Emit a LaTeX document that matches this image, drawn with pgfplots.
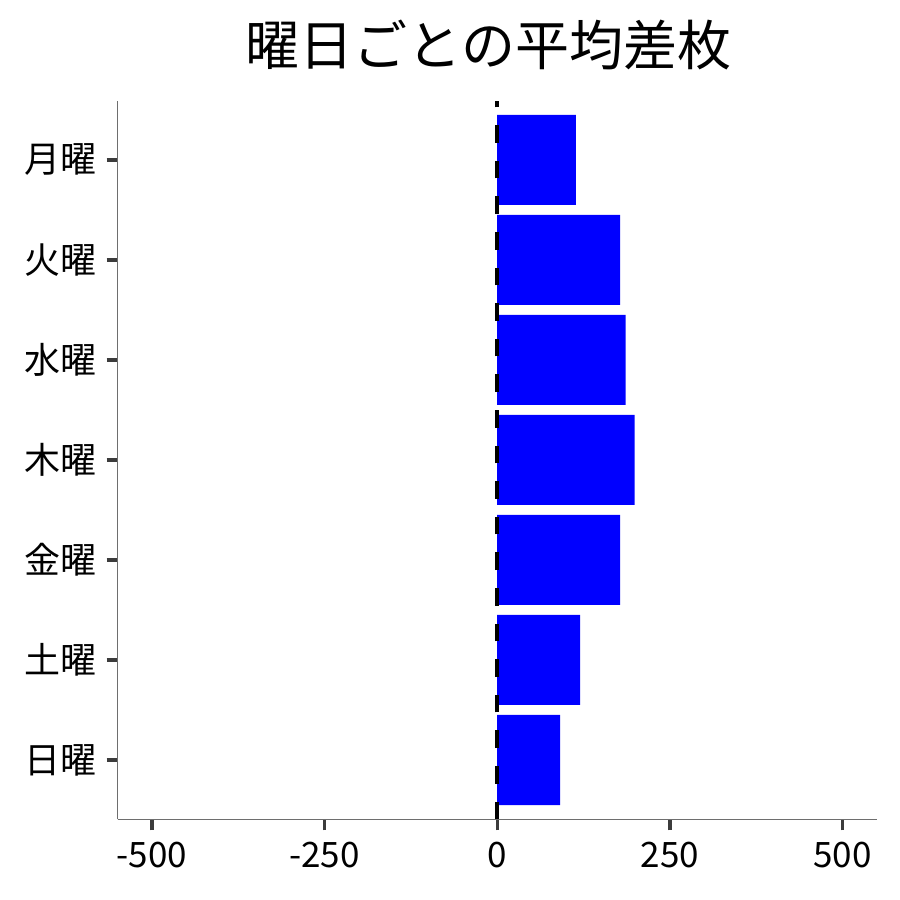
\documentclass[border=0pt]{standalone}
\usepackage{pgfplots}
\pgfplotsset{compat=1.18}
\usepackage{fontspec}
\setmainfont{Noto Sans CJK JP}
\definecolor{spine}{RGB}{110,110,110}
\definecolor{tickc}{RGB}{60,60,60}
\begin{document}
\begin{tikzpicture}
\useasboundingbox (-117.7bp,-80.7bp) rectangle (782.3bp,819.3bp);
\begin{axis}[
  at={(0,0)}, anchor=south west,
  scale only axis,
  width=759bp, height=718.3bp,
  xmin=-549.5, xmax=549.5,
  ymin=-0.593, ymax=6.59,
  axis x line*=bottom, axis y line*=left,
  axis line style={-, color=spine, line width=1.3bp},
  tick align=outside,
  major tick length=11bp,
  tick style={color=tickc, line width=3.3bp},
  xtick={-500,-250,0,250,500},
  xticklabels={-500,-250,0,250,500},
  ytick={0,1,2,3,4,5,6},
  yticklabels={日曜,土曜,金曜,木曜,水曜,火曜,月曜},
  xticklabel style={font=\fontsize{35bp}{42bp}\selectfont, inner sep=0pt, anchor=north, yshift=-11.4bp},
  yticklabel style={font=\fontsize{36bp}{43bp}\selectfont, inner sep=0pt, anchor=east, xshift=-10bp},
]
\addplot[xbar, bar width=0.9, fill={rgb,255:red,0;green,0;blue,255}, draw=none]
  coordinates {(91,0) (120,1) (178,2) (199,3) (186,4) (178,5) (114,6)};
\addplot[black, line width=4.3bp, dash pattern=on 17.6bp off 18bp]
  coordinates {(0,-0.593) (0,6.59)};
\end{axis}
\node[inner sep=0pt, anchor=center, font=\fontsize{54bp}{65bp}\selectfont] at (371bp,774.5bp) {曜日ごとの平均差枚};
\end{tikzpicture}
\end{document}
